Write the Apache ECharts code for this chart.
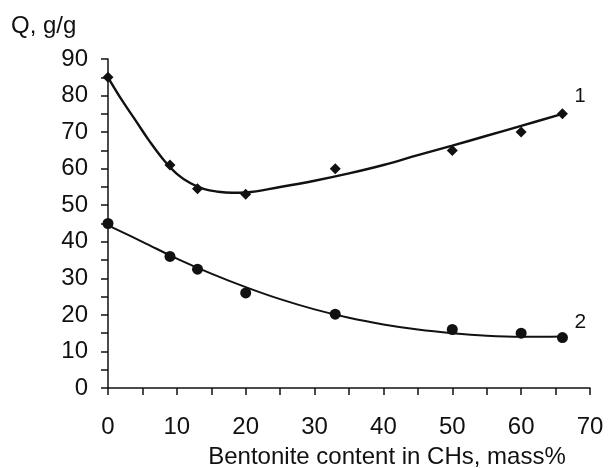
<!DOCTYPE html>
<html>
<head>
<meta charset="utf-8">
<title>Swelling degree vs bentonite content</title>
<script src="https://cdn.jsdelivr.net/npm/echarts@6/dist/echarts.min.js"></script>
<style>
  html, body { margin: 0; padding: 0; background: #ffffff; }
  #chart { width: 608px; height: 468px; }
</style>
</head>
<body>
<div id="chart"></div>
<script>
// Measured points, sample 1 (diamonds) and sample 2 (circles)
const bentonite1 = [0, 9, 13, 20, 33, 50, 60, 66];
const swelling1  = [85, 61, 54.5, 53, 60, 65, 70, 75];
const bentonite2 = [0, 9, 13, 20, 33, 50, 60, 66];
const swelling2  = [45, 36, 32.5, 26, 20.2, 16, 15, 13.8];

// Trend curves through the measurements
const trendX1 = [0, 2, 4, 6, 8, 10, 12, 14, 16, 18, 20, 25, 30, 35, 40, 45, 50, 55, 60, 66];
const trendY1 = [85, 78.8, 73.2, 67.6, 62.6, 58.6, 56, 54.4, 53.7, 53.4, 53.5, 55, 56.7, 58.7, 61, 63.7, 66.3, 69, 71.7, 75];
const trendX2 = [0, 5, 10, 15, 20, 25, 30, 35, 40, 45, 50, 55, 60, 66];
const trendY2 = [44.5, 40, 35.4, 31.3, 27.6, 24.3, 21.5, 19.2, 17.4, 16, 15, 14.3, 14, 14.1];

// Axis ticks
const xTicks = { min: 0, max: 70, step: 10 };
const yTicks = { min: 0, max: 90, step: 10 };

const curveNames = ['1', '2'];

const pairs = (xs, ys) => xs.map((x, i) => [x, ys[i]]);

const FONT = 'Liberation Sans, Arial, sans-serif';
const INK = '#111111';

const axisCommon = {
  type: 'value',
  splitLine: { show: false },
  minorSplitLine: { show: false },
  axisLine: { show: true, onZero: false, lineStyle: { color: INK, width: 1.5 } },
  axisTick: { show: true, inside: false, length: 7, lineStyle: { color: INK, width: 1.5 } },
  minorTick: { show: true, splitNumber: 2, length: 7, lineStyle: { color: INK, width: 1.5 } },
  axisLabel: { color: INK, fontFamily: FONT, fontSize: 24 }
};

const chart = echarts.init(document.getElementById('chart'), null, { renderer: 'canvas' });

chart.setOption({
  animation: false,
  backgroundColor: '#ffffff',
  title: {
    text: 'Q, g/g',
    left: 6,
    top: 9,
    textStyle: { color: INK, fontFamily: FONT, fontSize: 24, fontWeight: 'normal' }
  },
  grid: { left: 108, right: 18, top: 59, bottom: 80, containLabel: false, outerBoundsMode: 'none' },
  xAxis: Object.assign({}, axisCommon, {
    min: xTicks.min, max: xTicks.max, interval: xTicks.step,
    axisLabel: Object.assign({}, axisCommon.axisLabel, { margin: 27 }),
    name: 'Bentonite content in CHs, mass%',
    nameLocation: 'middle',
    nameGap: 57,
    nameTextStyle: { color: INK, fontFamily: FONT, fontSize: 24, padding: [0, 0, 0, 76] }
  }),
  yAxis: Object.assign({}, axisCommon, {
    min: yTicks.min, max: yTicks.max, interval: yTicks.step,
    axisLabel: Object.assign({}, axisCommon.axisLabel, { margin: 20 })
  }),
  series: [
    {
      type: 'line',
      data: pairs(trendX1, trendY1),
      smooth: 0.4,
      showSymbol: false,
      lineStyle: { color: INK, width: 2.4 },
      endLabel: { show: true, formatter: curveNames[0], offset: [4, -17], color: INK, fontFamily: FONT, fontSize: 20 },
      z: 2
    },
    {
      type: 'line',
      data: pairs(trendX2, trendY2),
      smooth: 0.4,
      showSymbol: false,
      lineStyle: { color: INK, width: 2 },
      endLabel: { show: true, formatter: curveNames[1], offset: [4, -14], color: INK, fontFamily: FONT, fontSize: 21 },
      z: 2
    },
    {
      type: 'scatter',
      data: pairs(bentonite1, swelling1),
      symbol: 'diamond',
      symbolSize: [11, 11],
      itemStyle: { color: INK, opacity: 1 },
      z: 3
    },
    {
      type: 'scatter',
      data: pairs(bentonite2, swelling2),
      symbol: 'circle',
      symbolSize: 11,
      itemStyle: { color: INK, opacity: 1 },
      z: 3
    }
  ]
});
</script>
</body>
</html>
